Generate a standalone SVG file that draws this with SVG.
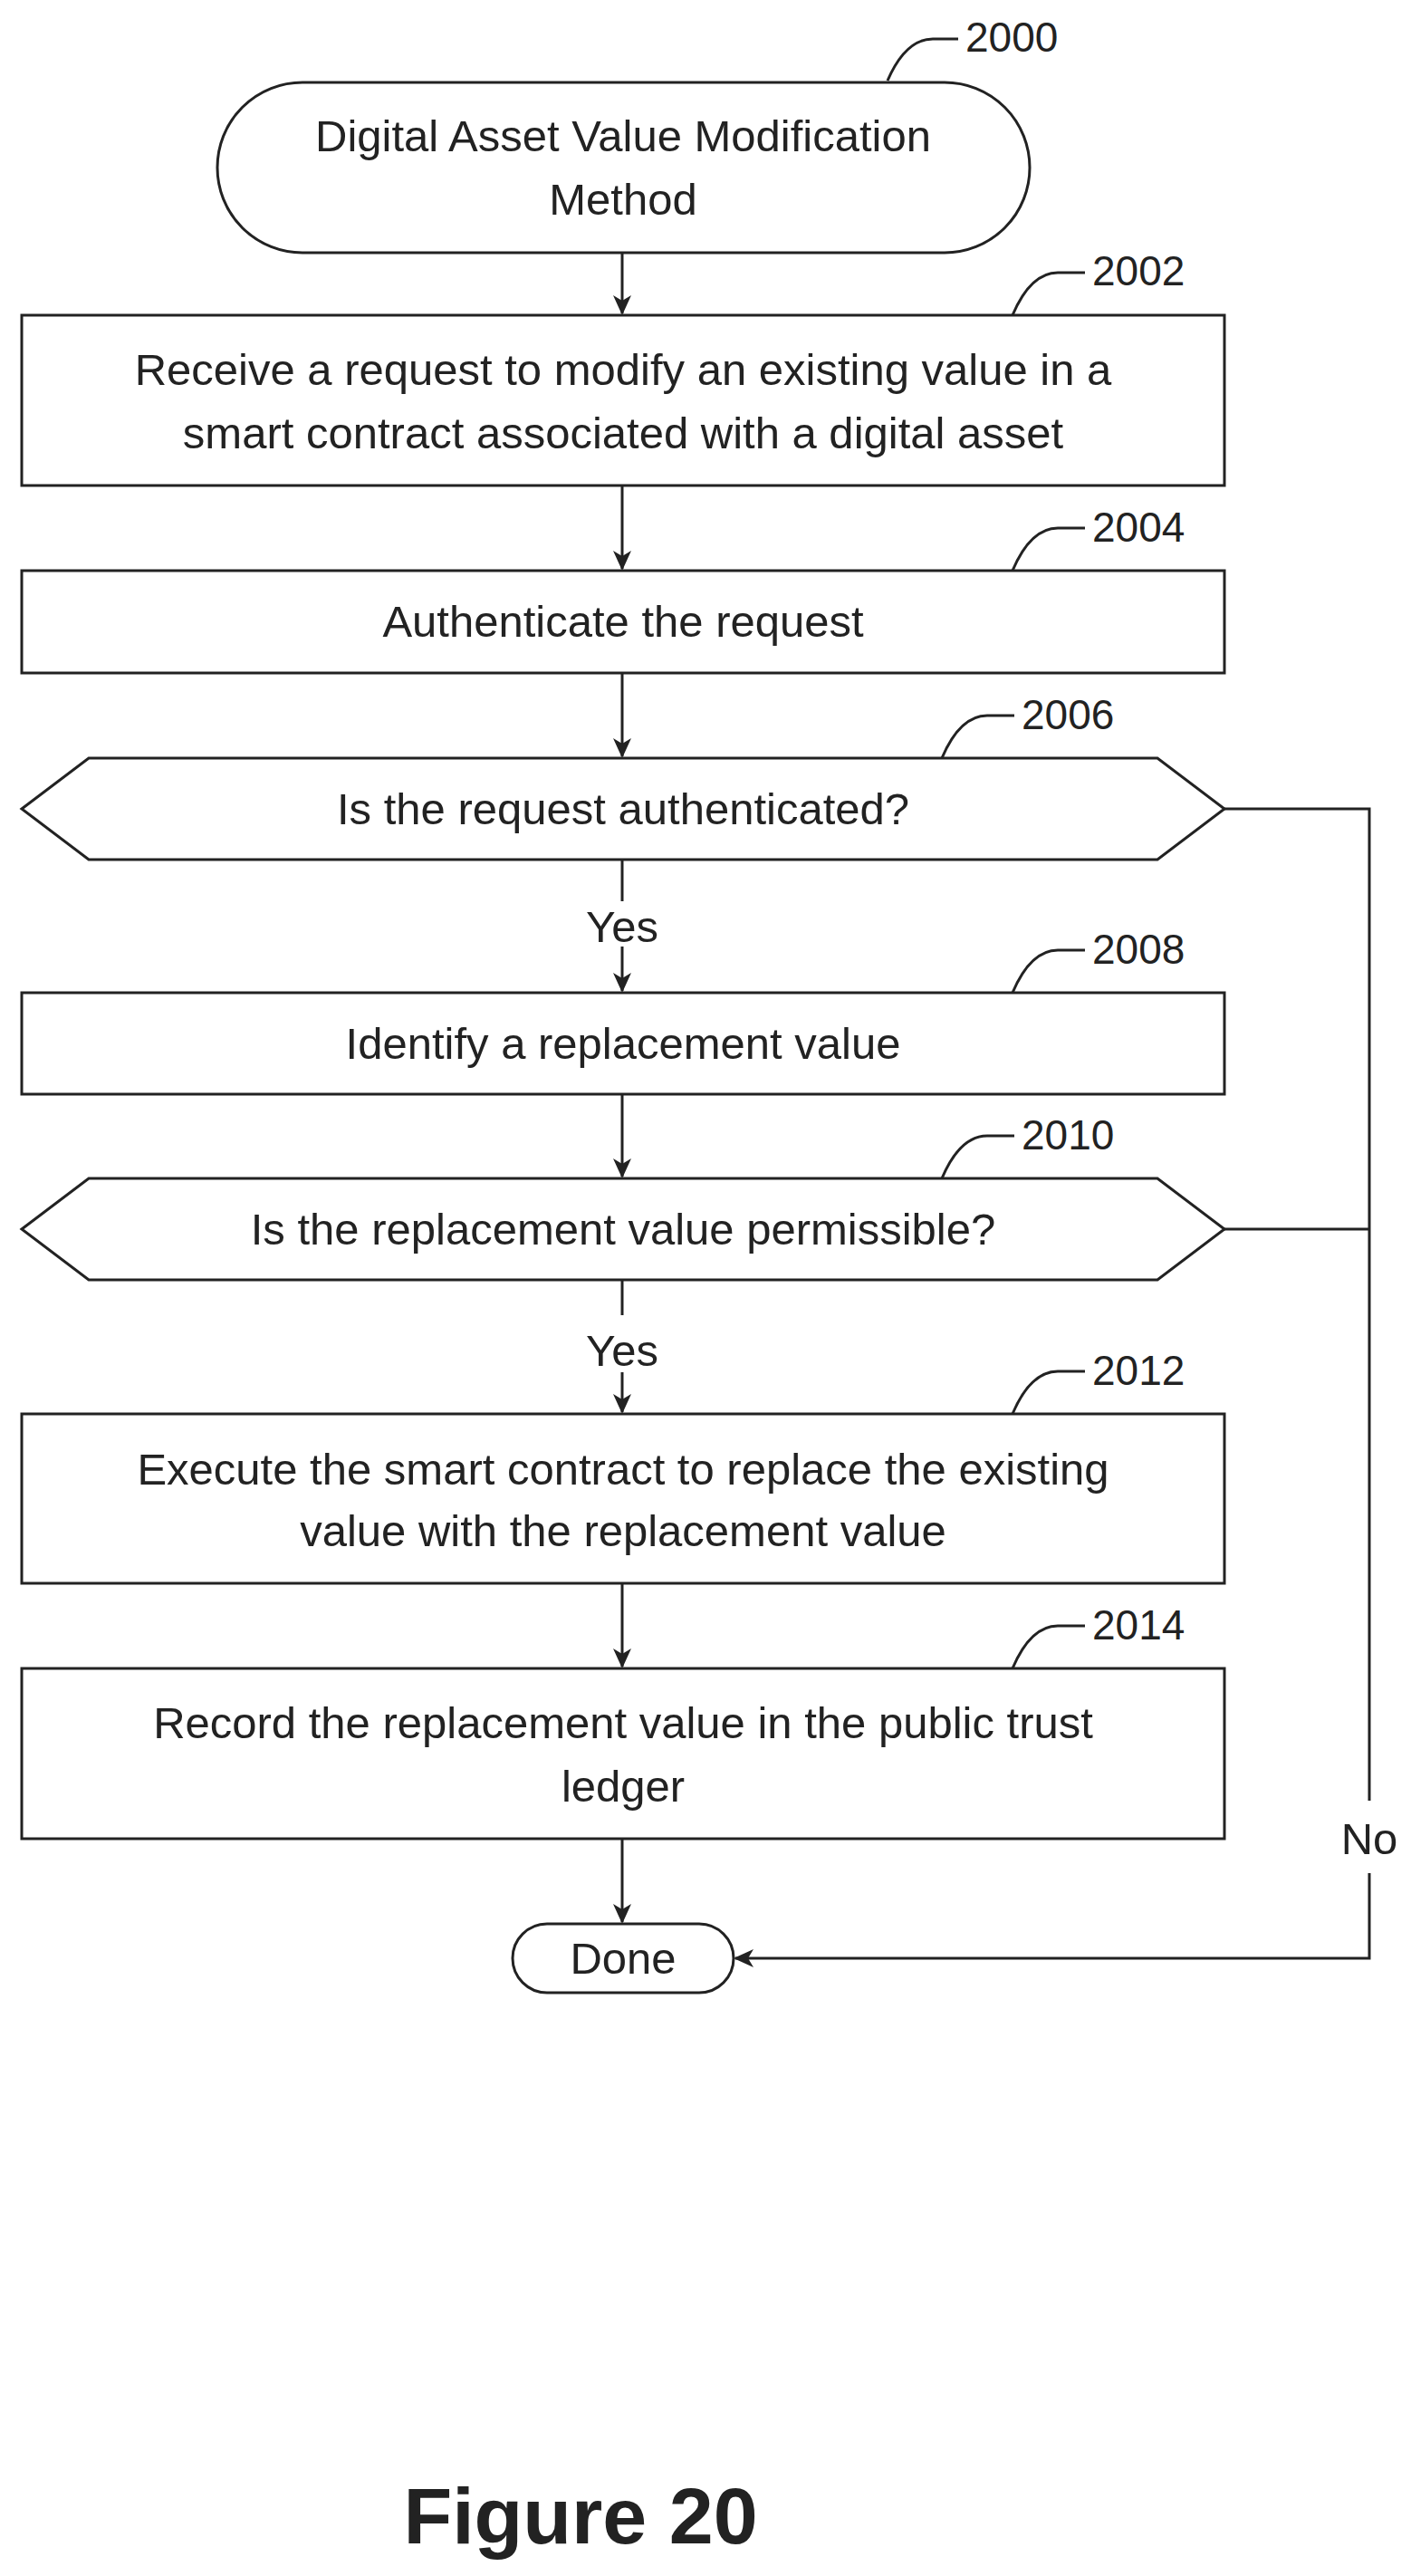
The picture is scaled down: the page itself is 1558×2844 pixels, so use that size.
<svg xmlns="http://www.w3.org/2000/svg" width="1558" height="2844" viewBox="0 0 1558 2844">
<defs>
<marker id="ah" markerWidth="22" markerHeight="22" refX="20" refY="10" orient="auto" markerUnits="userSpaceOnUse" viewBox="0 0 22 20"><path d="M0,0 L22,10 L0,20 L6,10 Z" fill="#222"/></marker>
<style>
.s{fill:#fff;stroke:#222;stroke-width:3}
.l{fill:none;stroke:#222;stroke-width:3}
.t{font-family:"Liberation Sans",Arial,sans-serif;font-size:49px;fill:#222;text-anchor:middle}
.n{font-family:"Liberation Sans",Arial,sans-serif;font-size:46px;fill:#222}
</style>
</defs>
<rect width="1558" height="2844" fill="#fff"/>
<g id="connectors">
<line class="l" x1="687" y1="279" x2="687" y2="346" marker-end="url(#ah)"/>
<line class="l" x1="687" y1="536" x2="687" y2="628" marker-end="url(#ah)"/>
<line class="l" x1="687" y1="743" x2="687" y2="835" marker-end="url(#ah)"/>
<line class="l" x1="687" y1="949" x2="687" y2="995"/>
<line class="l" x1="687" y1="1045" x2="687" y2="1094" marker-end="url(#ah)"/>
<text class="t" x="687" y="1040">Yes</text>
<line class="l" x1="687" y1="1208" x2="687" y2="1299" marker-end="url(#ah)"/>
<line class="l" x1="687" y1="1413" x2="687" y2="1452"/>
<line class="l" x1="687" y1="1515" x2="687" y2="1559" marker-end="url(#ah)"/>
<text class="t" x="687" y="1508">Yes</text>
<line class="l" x1="687" y1="1748" x2="687" y2="1840" marker-end="url(#ah)"/>
<line class="l" x1="687" y1="2030" x2="687" y2="2122" marker-end="url(#ah)"/>
<polyline class="l" points="1352,893 1512,893 1512,1988"/>
<line class="l" x1="1352" y1="1357" x2="1512" y2="1357"/>
<polyline class="l" points="1512,2068 1512,2162 812,2162" marker-end="url(#ah)"/>
<text class="t" x="1512" y="2047">No</text>
</g>
<g id="n2000">
<rect class="s" x="240" y="91" width="897" height="188" rx="94" ry="94"/>
<text class="t" x="688" y="167">Digital Asset Value Modification</text>
<text class="t" x="688" y="237">Method</text>
<path class="l" d="M980,89 Q1000,43 1030,43 L1058,43"/>
<text class="n" x="1066" y="57">2000</text>
</g>
<g id="n2002">
<rect class="s" x="24" y="348" width="1328" height="188"/>
<text class="t" x="688" y="425">Receive a request to modify an existing value in a</text>
<text class="t" x="688" y="495">smart contract associated with a digital asset</text>
<path class="l" d="M1118,348 Q1138,301 1168,301 L1198,301"/>
<text class="n" x="1206" y="315">2002</text>
</g>
<g id="n2004">
<rect class="s" x="24" y="630" width="1328" height="113"/>
<text class="t" x="688" y="703">Authenticate the request</text>
<path class="l" d="M1118,630 Q1138,583 1168,583 L1198,583"/>
<text class="n" x="1206" y="598">2004</text>
</g>
<g id="n2006">
<polygon class="s" points="24,893 98,837 1278,837 1352,893 1278,949 98,949"/>
<text class="t" x="688" y="910">Is the request authenticated?</text>
<path class="l" d="M1040,837 Q1060,790 1090,790 L1120,790"/>
<text class="n" x="1128" y="805">2006</text>
</g>
<g id="n2008">
<rect class="s" x="24" y="1096" width="1328" height="112"/>
<text class="t" x="688" y="1169">Identify a replacement value</text>
<path class="l" d="M1118,1096 Q1138,1049 1168,1049 L1198,1049"/>
<text class="n" x="1206" y="1064">2008</text>
</g>
<g id="n2010">
<polygon class="s" points="24,1357 98,1301 1278,1301 1352,1357 1278,1413 98,1413"/>
<text class="t" x="688" y="1374">Is the replacement value permissible?</text>
<path class="l" d="M1040,1301 Q1060,1254 1090,1254 L1120,1254"/>
<text class="n" x="1128" y="1269">2010</text>
</g>
<g id="n2012">
<rect class="s" x="24" y="1561" width="1328" height="187"/>
<text class="t" x="688" y="1639">Execute the smart contract to replace the existing</text>
<text class="t" x="688" y="1707">value with the replacement value</text>
<path class="l" d="M1118,1561 Q1138,1514 1168,1514 L1198,1514"/>
<text class="n" x="1206" y="1529">2012</text>
</g>
<g id="n2014">
<rect class="s" x="24" y="1842" width="1328" height="188"/>
<text class="t" x="688" y="1919">Record the replacement value in the public trust</text>
<text class="t" x="688" y="1989">ledger</text>
<path class="l" d="M1118,1842 Q1138,1795 1168,1795 L1198,1795"/>
<text class="n" x="1206" y="1810">2014</text>
</g>
<g id="done">
<rect class="s" x="566" y="2124" width="244" height="76" rx="38" ry="38"/>
<text class="t" x="688" y="2179">Done</text>
</g>
<text x="641" y="2808" style="font-family:'Liberation Sans',Arial,sans-serif;font-size:88px;font-weight:bold;fill:#222;text-anchor:middle">Figure 20</text>
</svg>
